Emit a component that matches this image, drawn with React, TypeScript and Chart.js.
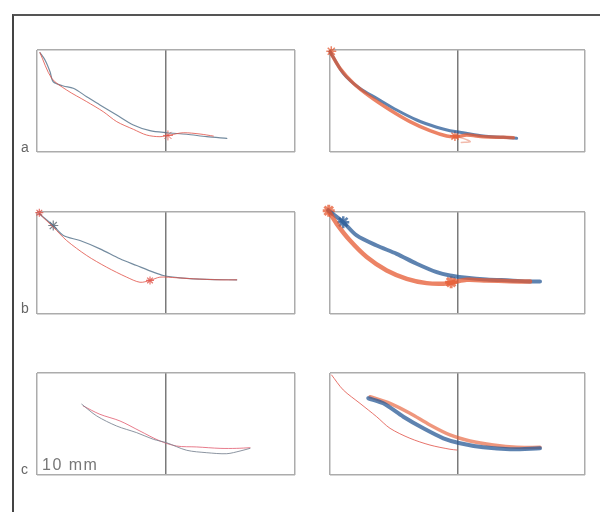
import React, { useEffect, useRef } from "react";
import { Chart, registerables } from "chart.js";

Chart.register(...registerables);

type P = [number, number];

// axis ranges / tick positions (panel frame lines + centre divider)
const X_TICKS = [-10, 0, 10];
const Y_TICKS = [0, 8];
const ROW_LABELS = ["a", "b", "c"];
const SCALE_LABEL = "10 mm";

// ---- row a ----
const aLeftBlue: P[] = [
  [-9.77, 7.79], [-9.38, 7.22], [-8.99, 6.3], [-8.74, 5.51], [-7.96, 5.18], [-7.19, 5.0],
  [-6.15, 4.34], [-5.12, 3.69], [-3.82, 2.9], [-2.53, 2.12], [-1.24, 1.67], [0.05, 1.51],
  [1.6, 1.39], [3.16, 1.2], [4.71, 1.07],
];
const aLeftRed: P[] = [
  [-9.77, 7.79], [-8.86, 5.78], [-7.7, 4.86], [-6.15, 3.95], [-4.86, 3.16], [-3.82, 2.38],
  [-2.53, 1.78], [-1.5, 1.33], [-0.47, 1.2], [0.31, 1.33], [1.34, 1.51], [2.64, 1.41], [3.67, 1.25],
];
const aLeftStars: P[] = [[0.15, 1.3]];
const aRightBlue: P[] = [
  [-10.0, 7.87], [-8.96, 6.17], [-7.65, 4.98], [-6.34, 4.21], [-4.77, 3.29], [-3.2, 2.51],
  [-1.63, 1.94], [-0.59, 1.67], [0.45, 1.51], [2.02, 1.25], [3.59, 1.15], [4.64, 1.07],
];
const aRightRed: P[] = [
  [-10.0, 7.87], [-9.22, 6.56], [-8.17, 5.39], [-6.86, 4.34], [-5.29, 3.29], [-3.73, 2.38],
  [-2.16, 1.67], [-0.85, 1.25], [-0.06, 1.2], [0.72, 1.33], [2.02, 1.2], [3.59, 1.15], [4.38, 1.12],
];
const aRightRedLoop: P[] = [[-0.3, 1.25], [0.5, 1.05], [1.0, 0.8], [0.3, 0.75]];
const aRightStars: P[] = [[-0.2, 1.25], [-9.9, 7.9]];

// ---- row b ----
const bLeftBlue: P[] = [
  [-9.82, 7.86], [-8.74, 6.94], [-7.96, 6.16], [-6.67, 5.76], [-5.12, 5.11], [-3.57, 4.33],
  [-2.27, 3.8], [-0.98, 3.28], [-0.21, 3.02], [1.09, 2.84], [3.16, 2.71], [5.48, 2.68],
];
const bLeftRed: P[] = [
  [-9.82, 7.86], [-8.74, 6.81], [-7.7, 5.76], [-6.15, 4.59], [-4.6, 3.67], [-3.05, 2.89],
  [-2.02, 2.49], [-1.24, 2.63], [-0.47, 2.89], [0.83, 2.84], [2.12, 2.76], [4.19, 2.68], [5.48, 2.68],
];
const bLeftBlueStars: P[] = [[-8.74, 6.94]];
const bLeftRedStars: P[] = [[-1.24, 2.63], [-9.82, 7.95]];
const bRightBlue: P[] = [
  [-10.13, 8.12], [-8.96, 7.2], [-7.91, 6.16], [-6.34, 5.37], [-4.77, 4.72], [-3.2, 3.94],
  [-1.63, 3.28], [-0.59, 3.02], [0.72, 2.84], [2.29, 2.71], [4.12, 2.63], [5.69, 2.55], [6.47, 2.55],
];
const bRightRed: P[] = [
  [-10.13, 8.12], [-9.47, 7.07], [-8.43, 5.76], [-7.12, 4.47], [-5.55, 3.41], [-3.98, 2.76],
  [-2.42, 2.42], [-1.11, 2.37], [-0.33, 2.49], [0.72, 2.68], [2.29, 2.63], [4.12, 2.57], [5.69, 2.55],
];
const bRightBlueStars: P[] = [[-8.96, 7.2]];
const bRightRedStars: P[] = [[-0.5, 2.5], [-10.1, 8.1]];

// ---- row c ----
const cLeftBlue: P[] = [
  [-6.53, 5.55], [-5.37, 4.63], [-3.82, 3.84], [-2.27, 3.32], [-0.98, 2.8], [0.05, 2.53],
  [1.6, 1.94], [3.16, 1.75], [4.71, 1.67], [5.74, 1.88], [6.51, 2.09],
];
const cLeftRed: P[] = [
  [-6.41, 5.41], [-5.12, 4.76], [-3.57, 4.24], [-2.02, 3.45], [-0.47, 2.67], [0.83, 2.27],
  [2.38, 2.2], [4.19, 2.09], [5.48, 2.09], [6.51, 2.14],
];
const cRightThinRed: P[] = [
  [-9.87, 7.84], [-8.96, 6.67], [-7.65, 5.62], [-6.34, 4.57], [-5.29, 3.66], [-3.73, 2.88],
  [-2.16, 2.35], [-0.59, 2.02], [-0.06, 1.96],
];
const cRightBlue: P[] = [
  [-7.0, 6.02], [-5.82, 5.62], [-4.25, 4.57], [-2.68, 3.66], [-1.11, 2.88], [0.2, 2.49],
  [2.02, 2.17], [4.12, 2.02], [6.47, 2.09],
];
const cRightRed: P[] = [
  [-6.86, 6.14], [-5.29, 5.62], [-3.73, 4.84], [-2.16, 3.92], [-0.59, 3.14], [0.98, 2.67],
  [2.81, 2.35], [4.64, 2.17], [6.47, 2.17],
];

type Series = { pts: P[]; color: string; width: number; stars?: boolean; r?: number };

const THIN_BLUE = "rgba(80,110,135,0.8)";
const THIN_RED = "rgba(225,80,70,0.8)";
const BAND_BLUE = "rgba(40,90,150,0.75)";
const BAND_RED = "rgba(230,90,50,0.75)";

const PANELS: { left: number; top: number; width: number; series: Series[] }[] = [
  { left: 37, top: 50, width: 258, series: [
    { pts: aLeftRed, color: THIN_RED, width: 1 },
    { pts: aLeftBlue, color: THIN_BLUE, width: 1.2 },
    { pts: aLeftStars, color: THIN_RED, width: 1, stars: true, r: 5 },
  ] },
  { left: 330, top: 50, width: 255, series: [
    { pts: aRightRed, color: BAND_RED, width: 3.5 },
    { pts: aRightRedLoop, color: "rgba(230,120,90,0.5)", width: 1.5 },
    { pts: aRightBlue, color: BAND_BLUE, width: 3 },
    { pts: aRightStars, color: BAND_RED, width: 1.5, stars: true, r: 5 },
  ] },
  { left: 37, top: 211.5, width: 258, series: [
    { pts: bLeftRed, color: THIN_RED, width: 1 },
    { pts: bLeftBlue, color: THIN_BLUE, width: 1.2 },
    { pts: bLeftBlueStars, color: "rgba(100,110,120,0.85)", width: 1.2, stars: true, r: 5 },
    { pts: bLeftRedStars, color: THIN_RED, width: 1.2, stars: true, r: 4 },
  ] },
  { left: 330, top: 211.5, width: 255, series: [
    { pts: bRightRed, color: BAND_RED, width: 4.5 },
    { pts: bRightBlue, color: BAND_BLUE, width: 4 },
    { pts: bRightBlueStars, color: BAND_BLUE, width: 2.5, stars: true, r: 6 },
    { pts: bRightRedStars, color: BAND_RED, width: 3, stars: true, r: 6 },
  ] },
  { left: 37, top: 373, width: 258, series: [
    { pts: cLeftBlue, color: "rgba(120,130,145,0.85)", width: 1 },
    { pts: cLeftRed, color: "rgba(225,90,110,0.8)", width: 1 },
  ] },
  { left: 330, top: 373, width: 255, series: [
    { pts: cRightThinRed, color: THIN_RED, width: 1 },
    { pts: cRightBlue, color: BAND_BLUE, width: 4 },
    { pts: cRightRed, color: "rgba(230,95,55,0.65)", width: 3.5 },
  ] },
];

const PANEL_H = 102;
const PAD = 10;

function Panel({ left, top, width, series }: { left: number; top: number; width: number; series: Series[] }) {
  const ref = useRef<HTMLCanvasElement>(null);
  useEffect(() => {
    if (!ref.current) return;
    const chart = new Chart(ref.current, {
      type: "scatter",
      data: {
        datasets: series.map((s) => ({
          data: s.pts.map(([x, y]) => ({ x, y })),
          showLine: !s.stars,
          borderColor: s.color,
          backgroundColor: s.color,
          borderWidth: s.width,
          pointRadius: s.stars ? s.r ?? 5 : 0,
          pointStyle: "star",
          pointBorderWidth: s.width,
          tension: 0.3,
          clip: false,
          borderCapStyle: "round",
          borderJoinStyle: "round",
        })),
      },
      options: {
        animation: false,
        responsive: false,
        events: [],
        layout: { padding: PAD, autoPadding: false },
        plugins: { legend: { display: false }, tooltip: { enabled: false } },
        scales: {
          x: {
            type: "linear",
            min: -10,
            max: 10,
            afterBuildTicks: (s: any) => { s.ticks = X_TICKS.map((v) => ({ value: v })); },
            ticks: { display: false },
            border: { display: false },
            grid: {
              drawTicks: false,
              lineWidth: 1.5,
              color: (ctx: any) => (ctx.tick && ctx.tick.value === 0 ? "#7a7a7a" : "#acacac"),
            },
          },
          y: {
            type: "linear",
            min: 0,
            max: 8,
            afterBuildTicks: (s: any) => { s.ticks = Y_TICKS.map((v) => ({ value: v })); },
            ticks: { display: false },
            border: { display: false },
            grid: { drawTicks: false, lineWidth: 1.5, color: "#acacac" },
          },
        },
      },
    } as any);
    return () => chart.destroy();
  }, []);
  const w = width + 2 * PAD;
  const h = PANEL_H + 2 * PAD;
  return (
    <canvas
      ref={ref}
      width={w}
      height={h}
      style={{ position: "absolute", left: left - PAD, top: top - PAD, width: w, height: h }}
    />
  );
}

export default function App() {
  const labelTops = [139, 300, 461];
  return (
    <div style={{ position: "absolute", left: 0, top: 0, width: 600, height: 512, overflow: "hidden", background: "#fff", fontFamily: "'Liberation Sans', Arial, sans-serif" }}>
      <div style={{ position: "absolute", left: 12, top: 13.5, width: 700, height: 700, borderLeft: "2px solid #444", borderTop: "2px solid #555" }} />
      {PANELS.map((p, i) => (
        <Panel key={i} left={p.left} top={p.top} width={p.width} series={p.series} />
      ))}
      {ROW_LABELS.map((t, i) => (
        <div key={t} style={{ position: "absolute", left: 21, top: labelTops[i], fontSize: 14, lineHeight: "16px", color: "#666" }}>{t}</div>
      ))}
      <div style={{ position: "absolute", left: 42, top: 456, fontSize: 16, lineHeight: "18px", letterSpacing: 1.5, color: "#777" }}>{SCALE_LABEL}</div>
    </div>
  );
}
